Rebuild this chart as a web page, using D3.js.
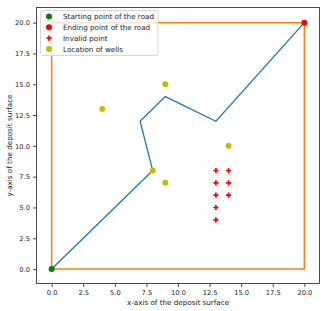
<!DOCTYPE html>
<html><head><meta charset="utf-8">
<script src="https://cdn.jsdelivr.net/npm/d3@7"></script>
<style>body{margin:0;background:#fff}svg{display:block}text{font-family:"DejaVu Sans",sans-serif;fill:#222}</style>
</head><body>
<script>
const roadX = [0, 8, 7, 9, 13, 20];
const roadY = [0, 8, 12, 14, 12, 20];
const boundX = [0, 20, 20, 0, 0];
const boundY = [0, 0, 20, 20, 0];
const startPt = [0, 0];
const endPt = [20, 20];
const invalidX = [13, 13, 13, 13, 13, 14, 14, 14];
const invalidY = [8, 7, 6, 5, 4, 8, 7, 6];
const wellX = [4, 9, 8, 9, 14];
const wellY = [13, 15, 8, 7, 10];
const ticks = [0, 2.5, 5, 7.5, 10, 12.5, 15, 17.5, 20];
const legendLabels = ["Starting point of the road", "Ending point of the road", "Invalid point", "Location of wells"];

const W = 327, H = 311;
const L = 36.5, R = 319.5, T = 7.5, B = 283.5;
const svg = d3.select("body").append("svg").attr("width", W).attr("height", H);
const x = d3.scaleLinear().domain([-1.2, 21.2]).range([L, R]);
const y = d3.scaleLinear().domain([-1.17, 21.23]).range([B, T]);

const line = d3.line().x(d => x(d[0])).y(d => y(d[1]));
svg.append("path").datum(boundX.map((v, i) => [v, boundY[i]]))
  .attr("d", line).attr("fill", "none").attr("stroke", "#ff7f0e").attr("stroke-width", 1.5);
svg.append("path").datum(roadX.map((v, i) => [v, roadY[i]]))
  .attr("d", line).attr("fill", "none").attr("stroke", "#1f77b4").attr("stroke-width", 1.3);

svg.append("circle").attr("cx", x(startPt[0])).attr("cy", y(startPt[1])).attr("r", 3).attr("fill", "#008000");
svg.append("circle").attr("cx", x(endPt[0])).attr("cy", y(endPt[1])).attr("r", 3).attr("fill", "#ff0000");

function plus(g, cx, cy) {
  g.append("path").attr("d", `M${cx - 2.6},${cy}H${cx + 2.6}M${cx},${cy - 2.6}V${cy + 2.6}`)
    .attr("stroke", "#ff0000").attr("stroke-width", 1.7).attr("fill", "none");
}
const inv = svg.append("g");
invalidX.forEach((v, i) => plus(inv, x(v), y(invalidY[i])));

svg.append("g").selectAll("circle").data(wellX.map((v, i) => [v, wellY[i]])).join("circle")
  .attr("cx", d => x(d[0])).attr("cy", d => y(d[1])).attr("r", 3).attr("fill", "#bfbf00");

// axes
const xAxis = d3.axisBottom(x).tickValues(ticks).tickFormat(d3.format(".1f")).tickSize(3.5).tickPadding(3);
const yAxis = d3.axisLeft(y).tickValues(ticks).tickFormat(d3.format(".1f")).tickSize(3.5).tickPadding(3);
const gx = svg.append("g").attr("transform", `translate(0,${B})`).call(xAxis);
const gy = svg.append("g").attr("transform", `translate(${L},0)`).call(yAxis);
[gx, gy].forEach(g => {
  g.select(".domain").remove();
  g.selectAll("line").attr("stroke", "#222").attr("stroke-width", 0.8);
  g.selectAll("text").attr("font-size", 6.7).attr("fill", "#222").style("font-family", "DejaVu Sans");
});
svg.append("rect").attr("x", L).attr("y", T).attr("width", R - L).attr("height", B - T)
  .attr("fill", "none").attr("stroke", "#222").attr("stroke-width", 0.8);

svg.append("text").attr("x", (L + R) / 2).attr("y", 304.5).attr("text-anchor", "middle")
  .attr("font-size", 7.2).text("x-axis of the deposit surface");
svg.append("text").attr("transform", `translate(11.5,${(T + B) / 2}) rotate(-90)`).attr("text-anchor", "middle")
  .attr("font-size", 7.2).text("y-axis of the deposit surface");

// legend
const lg = svg.append("g");
lg.append("rect").attr("x", 40.5).attr("y", 10.5).attr("width", 117.5).attr("height", 45).attr("rx", 2)
  .attr("fill", "rgba(255,255,255,0.8)").attr("stroke", "#ccc").attr("stroke-width", 0.8);
const lcol = ["#008000", "#ff0000", "#ff0000", "#bfbf00"];
legendLabels.forEach((t, i) => {
  const yy = 16.5 + i * 10.8;
  if (i === 2) plus(lg, 49, yy);
  else lg.append("circle").attr("cx", 49).attr("cy", yy).attr("r", 3).attr("fill", lcol[i]);
  lg.append("text").attr("x", 63).attr("y", yy + 2.6).attr("font-size", 7.2).text(t);
});
</script>
</body></html>
